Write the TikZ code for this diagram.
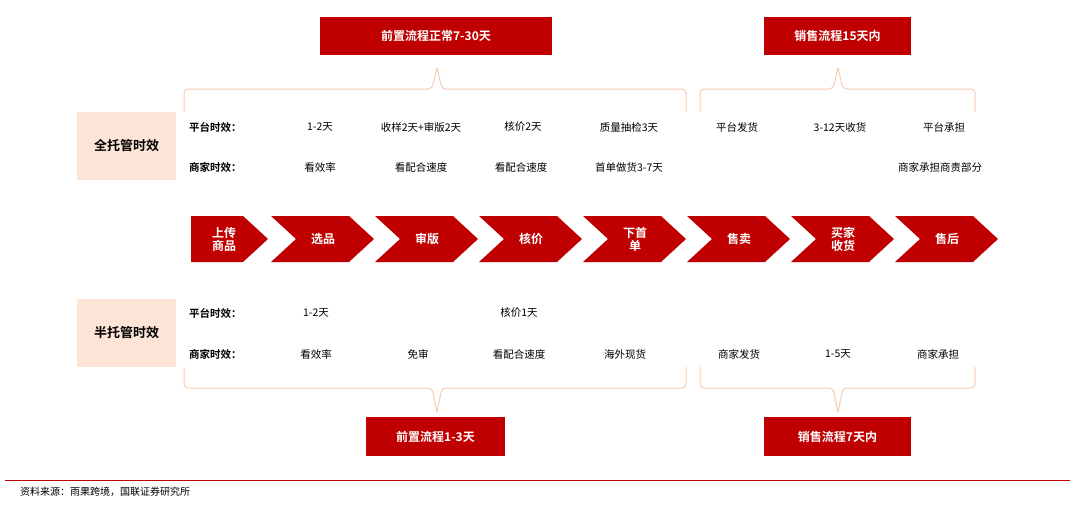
\documentclass[tikz,border=0pt]{standalone}
\usepackage{fontspec}
\setmainfont{Noto Sans CJK SC}
\newfontfamily\cjkb{Noto Sans CJK SC Bold}
\definecolor{dred}{HTML}{C00000}
\definecolor{peach}{HTML}{FCE4D6}
\definecolor{brc}{HTML}{F8CBAD}
\begin{document}
\begin{tikzpicture}[x=1pt,y=-1pt,
 redbox/.style={fill=dred,text=white,font=\cjkb\fontsize{12}{12}\selectfont,inner sep=0pt},
 lbl/.style={fill=peach,font=\cjkb\fontsize{13}{13}\selectfont,inner sep=0pt,minimum width=99pt,minimum height=68pt},
 itm/.style={font=\fontsize{10.5}{11}\selectfont,inner sep=0pt},
 hd/.style={font=\cjkb\fontsize{10.5}{11}\selectfont,inner sep=0pt,anchor=west},
 chv/.style={fill=dred},
 ct/.style={text=white,font=\cjkb\fontsize{12}{13}\selectfont,align=center,inner sep=0pt},
 br/.style={draw=brc,line width=1pt,rounded corners=4pt}]
\useasboundingbox (0,0) rectangle (1080,514);
% top boxes
\node[redbox,minimum width=232pt,minimum height=38pt] (t1) at (436,36) {前置流程正常7-30天};
\node[redbox,minimum width=147pt,minimum height=38pt] (t2) at (837.5,36) {销售流程15天内};
\node[redbox,minimum width=139pt,minimum height=39pt] (b1) at (435.5,436.5) {前置流程1-3天};
\node[redbox,minimum width=147pt,minimum height=39pt] (b2) at (837.5,436.5) {销售流程7天内};
% braces
\draw[br] (184,112) -- (184,89) -- (432,89) -- (437,68);
\draw[br] (437,68) -- (442,89) -- (686,89) -- (686,112);
\draw[br] (700,112) -- (700,89) -- (833,89) -- (838,68);
\draw[br] (838,68) -- (843,89) -- (975,89) -- (975,112);
\draw[br] (184,367) -- (184,388) -- (432,388) -- (437,412);
\draw[br] (437,412) -- (442,388) -- (686,388) -- (686,367);
\draw[br] (700,367) -- (700,388) -- (833,388) -- (838,412);
\draw[br] (838,412) -- (843,388) -- (975,388) -- (975,367);
% labels
\node[lbl] (L1) at (126.5,146) {全托管时效};
\node[lbl] (L2) at (126.5,333) {半托管时效};
% rows top
\node[hd] (h1) at (189,127) {平台时效：};
\node[hd] (h2) at (189,167) {商家时效：};
\node[itm] (a1) at (320,127) {1-2天};
\node[itm] (a2) at (421,127) {收样2天+审版2天};
\node[itm] (a3) at (523,127) {核价2天};
\node[itm] (a4) at (629,127) {质量抽检3天};
\node[itm] (a5) at (737,127) {平台发货};
\node[itm] (a6) at (840,127) {3-12天收货};
\node[itm] (a7) at (944,127) {平台承担};
\node[itm] (c1) at (320,167) {看效率};
\node[itm] (c2) at (421,167) {看配合速度};
\node[itm] (c3) at (521,167) {看配合速度};
\node[itm] (c4) at (629,167) {首单做货3-7天};
\node[itm] (c5) at (940,167) {商家承担商责部分};
% rows bottom
\node[hd] (h3) at (189,313) {平台时效：};
\node[hd] (h4) at (189,354) {商家时效：};
\node[itm] (d1) at (316,313) {1-2天};
\node[itm] (d2) at (519,313) {核价1天};
\node[itm] (e1) at (316,354) {看效率};
\node[itm] (e2) at (418,354) {免审};
\node[itm] (e3) at (519,354) {看配合速度};
\node[itm] (e4) at (625,354) {海外现货};
\node[itm] (e5) at (739,354) {商家发货};
\node[itm] (e6) at (838,354) {1-5天};
\node[itm] (e7) at (938,354) {商家承担};
% chevrons
\fill[chv] (191,216) -- (243,216) -- (268,239) -- (243,262) -- (191,262) -- cycle;
\node[ct] (s1) at (224,239) {上传\\商品};
\foreach \x/\t/\n in {271/选品/s2,375/审版/s3,479/核价/s4,583/下首\\单/s5,687/售卖/s6,791/买家\\收货/s7,895/售后/s8}{
 \fill[chv] (\x,216) -- (\x+78,216) -- (\x+103,239) -- (\x+78,262) -- (\x,262) -- (\x+25,239) -- cycle;
 \node[ct] (\n) at (\x+52,239) {\t};
}
% footer
\draw[dred,line width=0.8pt] (5,480) -- (1070,480);
\node[anchor=west,inner sep=0pt,font=\fontsize{10}{10}\selectfont] (src) at (20,492) {资料来源：雨果跨境，国联证券研究所};
\end{tikzpicture}
\end{document}
